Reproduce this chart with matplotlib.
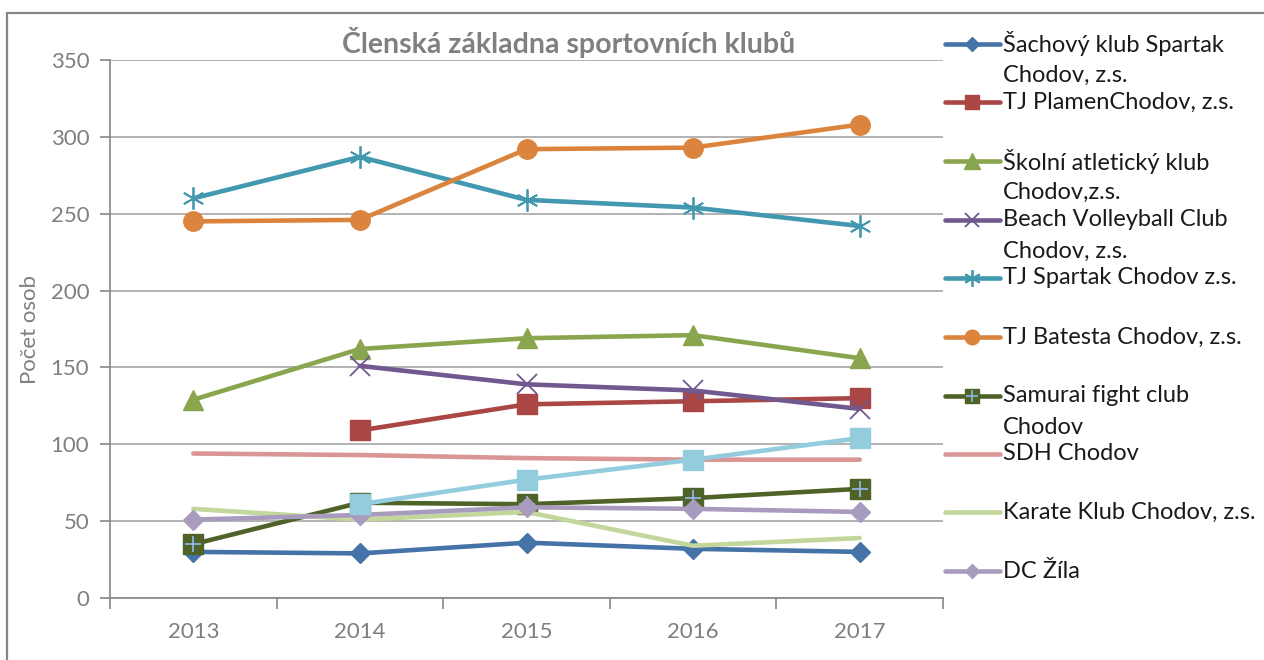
import matplotlib
matplotlib.use("Agg")
import matplotlib.pyplot as plt
from matplotlib.lines import Line2D
from matplotlib.patches import Rectangle

plt.rcParams['font.family'] = ['Lato', 'DejaVu Sans']

years = ['2013', '2014', '2015', '2016', '2017']

# members per club, None = no data that year
sachovy = [30, 29, 36, 32, 30]
plamen = [None, 109, 126, 128, 130]
skolni = [129, 162, 169, 171, 156]
beach = [None, 151, 139, 135, 123]
spartak = [260, 287, 259, 254, 242]
batesta = [245, 246, 292, 293, 308]
samurai = [35, 62, 61, 65, 71]
sdh = [94, 93, 91, 90, 90]
karate = [58, 51, 56, 34, 39]
zila = [51, 54, 59, 58, 56]
unnamed = [None, 61, 77, 90, 104]

labels = ['Šachový klub Spartak\nChodov, z.s.',
          'TJ PlamenChodov, z.s.',
          'Školní atletický klub\nChodov,z.s.',
          'Beach Volleyball Club\nChodov, z.s.',
          'TJ Spartak Chodov z.s.',
          'TJ Batesta Chodov, z.s.',
          'Samurai fight club\nChodov',
          'SDH Chodov',
          'Karate Klub Chodov, z.s.',
          'DC Žíla']

W, H = 1264, 660
fig = plt.figure(figsize=(W / 100, H / 100), dpi=100)
ax = fig.add_axes([110 / W, 1 - 598 / H, (943 - 110) / W, (598 - 60) / H])

LW = 3.3
# style per series: color, marker, marker size, marker edge width
styles = [
    ('#4572A7', 'D', 10, 1),
    ('#AA4643', 's', 14, 1),
    ('#89A54E', '^', 15, 1),
    ('#71588F', 'x', 14, 1.3),
    ('#4198AF', (6, 2, 0), 16, 1.3),
    ('#DB843D', 'o', 14, 1),
    ('#4F6228', 's', 14, 1),
    ('#D99694', None, 0, 0),
    ('#C3D69B', None, 0, 0),
    ('#A99BBD', 'D', 10, 1),
    ('#93CDDD', 's', 14, 1),
]
series = [sachovy, plamen, skolni, beach, spartak, batesta, samurai, sdh,
          karate, zila, unnamed]

x = list(range(len(years)))
for vals, (c, m, ms, mew) in zip(series, styles):
    xs = [i for i, v in zip(x, vals) if v is not None]
    ys = [v for v in vals if v is not None]
    ax.plot(xs, ys, color=c, lw=LW, marker=m, ms=ms, mew=mew,
            mfc=c, mec=c, solid_capstyle='round', solid_joinstyle='round')
    if vals is samurai:
        ax.plot(xs, ys, ls='none', marker='+', ms=12, mew=1.3, mec='#8EB4E3')

ax.set_xlim(-0.5, 4.5)
ax.set_ylim(0, 350)
ax.set_yticks(range(0, 351, 50))
ax.set_xticks(x)
ax.set_xticklabels(years)
ax.set_xticks([i - 0.5 for i in range(6)], minor=True)
ax.tick_params(axis='x', which='major', length=0, pad=17)
ax.tick_params(axis='x', which='minor', length=8, width=1.2, color='#868686')
ax.tick_params(axis='y', length=7, width=1.2, color='#868686', pad=8)
ax.tick_params(labelsize=16, labelcolor='#7F7F7F')
ax.grid(axis='y', color='#A6A6A6', lw=1.2)
ax.set_axisbelow(True)
for s in ['top', 'right']:
    ax.spines[s].set_visible(False)
for s in ['left', 'bottom']:
    ax.spines[s].set_color('#868686')
    ax.spines[s].set_linewidth(1.2)

fig.text(30 / W, 1 - 330 / H, 'Počet osob', rotation=90, ha='center',
         va='center', fontsize=16, color='#7F7F7F')
fig.text(569 / W, 1 - 42 / H, 'Členská základna sportovních klubů',
         ha='center', va='center', fontsize=20.5, fontweight='bold',
         color='#808080')

# chart border, cut off by the screenshot on the right and bottom
fig.add_artist(Rectangle((7 / W, -0.1), 1.2, 1.1 - 13 / H, transform=fig.transFigure,
                         fill=False, ec='#868686', lw=1.6))

# legend drawn by hand so the handle sits on the first text line
leg_y = [44, 102, 161, 220, 278, 337, 396, 454, 512, 571]
for lab, yp, (c, m, ms, mew) in zip(labels, leg_y, styles):
    yf = 1 - yp / H
    fig.add_artist(Line2D([945 / W, 1000 / W], [yf, yf], transform=fig.transFigure,
                          color=c, lw=LW, solid_capstyle='round'))
    if m is not None:
        fig.add_artist(Line2D([972 / W], [yf], transform=fig.transFigure, color=c,
                              marker=m, ms=ms * 0.75, mew=mew, mfc=c, mec=c))
    if lab.startswith('Samurai'):
        fig.add_artist(Line2D([972 / W], [yf], transform=fig.transFigure,
                              marker='+', ms=9, mew=1.2, mec='#8EB4E3'))
    for k, line in enumerate(lab.split('\n')):
        fig.text(1003 / W, 1 - (yp + 31 * k) / H, line, ha='left', va='center',
                 fontsize=17, color='#1A1A1A')

fig.savefig('out.png', dpi=100)
